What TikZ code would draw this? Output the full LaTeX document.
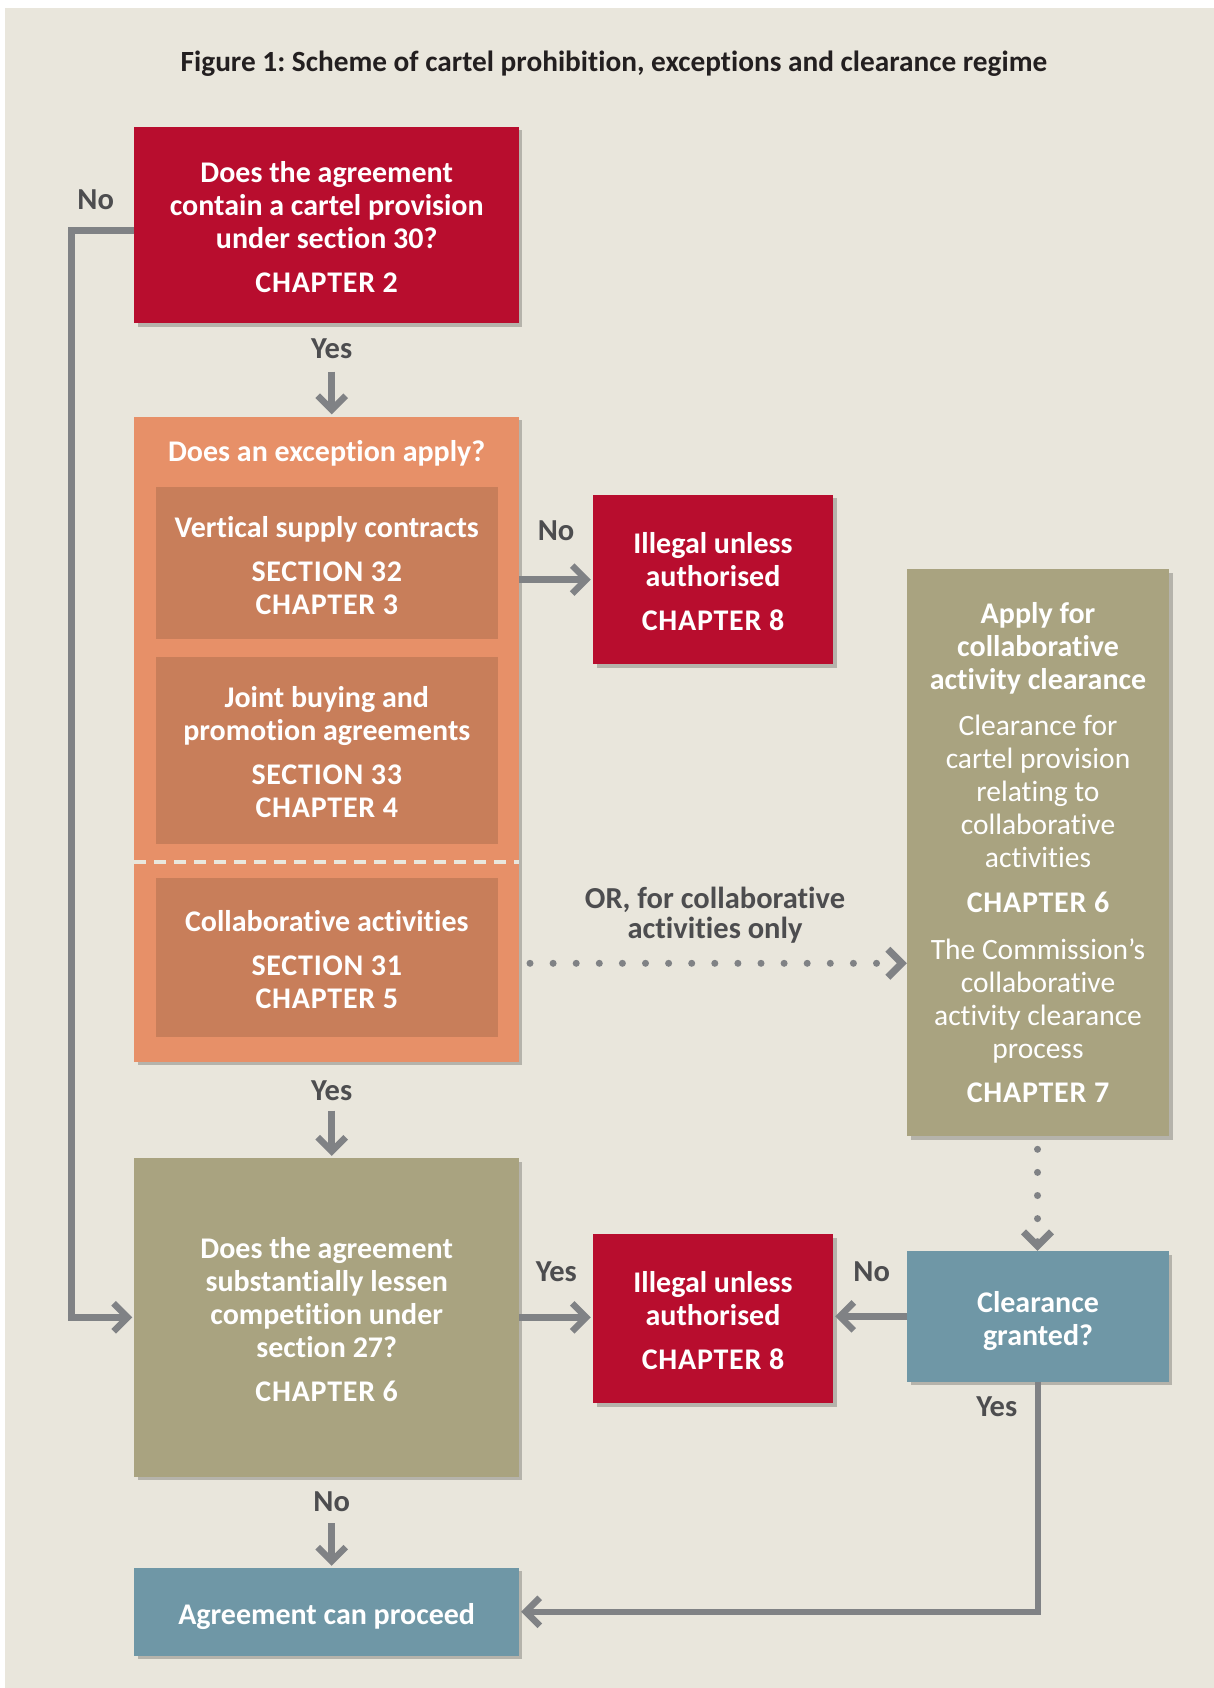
\documentclass[tikz,border=0pt]{standalone}
\usepackage{fontspec}
\setmainfont{Carlito}[Ligatures=NoCommon]
\frenchspacing
\usetikzlibrary{arrows.meta,shadows,calc}
\definecolor{bgc}{HTML}{E9E6DC}
\definecolor{redc}{HTML}{B80D2E}
\definecolor{orc}{HTML}{E79068}
\definecolor{orin}{HTML}{C87E5A}
\definecolor{khc}{HTML}{A9A380}
\definecolor{blc}{HTML}{6F97A6}
\definecolor{arrc}{HTML}{808285}
\definecolor{labc}{HTML}{4D4D4F}
\definecolor{titc}{HTML}{231F20}
\newcommand\mystrut{\rule{0pt}{25pt}}
\newcommand\bl{\bfseries\fontsize{30}{33}\selectfont}
\newcommand\rg{\mdseries\fontsize{29.5}{33}\selectfont}
\newcommand\capsp{\addfontfeature{LetterSpace=2.5}}
\begin{document}
\begin{tikzpicture}[x=1pt,y=-1pt,
  boxfont/.style={font=\bfseries\fontsize{30}{33}\selectfont},
  box/.style={rectangle, inner sep=0pt, align=center, text=white, boxfont,
    drop shadow={shadow xshift=3.5pt, shadow yshift=-3.5pt, fill=black, opacity=0.22}},
  inbox/.style={rectangle, inner sep=0pt, align=center, text=white, boxfont, fill=orin,
    minimum width=341.7pt},
  lbl/.style={font=\bfseries\fontsize{30.5}{30}\selectfont, text=labc, inner sep=0pt, anchor=base, align=center},
  arr/.style={draw=arrc, line width=6.5pt, line join=miter, shorten >=2pt,
    -{Straight Barb[length=14pt,width=28pt,sharp]}},
  dotarr/.style={draw=arrc, line width=7pt, line cap=round, dash pattern=on 0pt off 23.1pt,
    -{Straight Barb[length=14pt,width=28pt,sharp]}},
  dashw/.style={draw=bgc, line width=4pt, dash pattern=on 12pt off 8pt}
]
\useasboundingbox (0,0) rectangle (1214,1688);
\fill[white] (0,0) rectangle (1214,1688);
\fill[bgc] (5,8) rectangle (1214,1688);

\node[font=\bfseries\fontsize{29.3}{33}\selectfont, text=titc, anchor=base, inner sep=0pt] (title) at (614,71.7)
  {Figure 1: Scheme of cartel prohibition, exceptions and clearance regime};

% top red box
\node[box, fill=redc, minimum width=384.5pt, minimum height=196.5pt] (A) at (326.7,225.2)
  {\mystrut Does the agreement\\contain a cartel provision\\under section 30?\\[11pt]\capsp CHAPTER 2};

% orange exception box
\node[box, fill=orc, minimum width=384.5pt, minimum height=645pt] (B) at (326.7,739) {};
\node[boxfont, text=white, anchor=base, inner sep=0pt] (Bt) at (326.7,461) {Does an exception apply?};
\node[inbox, minimum height=152.3pt] (B1) at (326.8,563.1)
  {\mystrut Vertical supply contracts\\[11pt]\capsp SECTION 32\\\capsp CHAPTER 3};
\node[inbox, minimum height=187.2pt] (B2) at (326.8,750.1)
  {\mystrut Joint buying and\\promotion agreements\\[11pt]\capsp SECTION 33\\\capsp CHAPTER 4};
\coordinate (dl) at (0,861.7);
\draw[dashw] (B.west |- dl) -- (B.east |- dl);
\node[inbox, minimum height=159pt] (B3) at (326.8,957.8)
  {\mystrut Collaborative activities\\[11pt]\capsp SECTION 31\\\capsp CHAPTER 5};

% red illegal box 1
\node[box, fill=redc, minimum width=240pt, minimum height=169.3pt] (C) at (713,579.6)
  {\mystrut Illegal unless\\authorised\\[11pt]\capsp CHAPTER 8};

% khaki clearance box
\node[box, fill=khc, minimum width=262pt, minimum height=566.7pt] (D) at (1038,852.7)
  {\bl Apply for\\\bl collaborative\\\bl activity clearance\\[12.5pt]\rg Clearance for\\\rg cartel provision\\\rg relating to\\\rg collaborative\\\rg activities\\[12.5pt]\bl\capsp CHAPTER 6\\[13.5pt]\rg The Commission’s\\\rg collaborative\\\rg activity clearance\\\rg process\\[11.5pt]\bl\capsp CHAPTER 7};

% khaki SLC box
\node[box, fill=khc, minimum width=384.5pt, minimum height=318.6pt] (G) at (326.7,1317.3)
  {\mystrut Does the agreement\\substantially lessen\\competition under\\section 27?\\[11pt]\capsp CHAPTER 6};

% red illegal box 2
\node[box, fill=redc, minimum width=240pt, minimum height=169pt] (H) at (713,1318.5)
  {\mystrut Illegal unless\\authorised\\[11pt]\capsp CHAPTER 8};

% blue clearance granted
\node[box, fill=blc, minimum width=261.4pt, minimum height=130.7pt] (E) at (1038,1316.4)
  {\mystrut Clearance\\\smash{granted?}};

% blue proceed
\node[box, fill=blc, minimum width=384.5pt, minimum height=87.7pt] (F) at (326.7,1611.8)
  {\mystrut\smash{Agreement can proceed}};

% labels
\node[lbl] (noA) at (95.7,210) {No};
\node[lbl] (yesA) at (331.7,358.3) {Yes};
\node[lbl] (noB) at (556,540) {No};
\node[lbl, anchor=center] (orl) at (715,915) {OR, for collaborative\\activities only};
\node[lbl] (yesB) at (331.7,1100.7) {Yes};
\node[lbl] (yesG) at (556.4,1281.7) {Yes};
\node[lbl] (noE) at (871.7,1281.7) {No};
\node[lbl] (yesE) at (996.7,1416.7) {Yes};
\node[lbl] (noG) at (331.7,1511.7) {No};

% connectors
\coordinate (s1) at (331.7,371.7);
\draw[arr] (s1) -- (s1 |- B.north);
\coordinate (s2) at (331.7,1110.7);
\draw[arr] (s2) -- (s2 |- G.north);
\coordinate (s3) at (331.7,1523.3);
\draw[arr] (s3) -- (s3 |- F.north);
\coordinate (lft) at (71.7,230.7);
\draw[arr] ([yshift=-5.5pt]A.west) -- (lft) |- (G.west);
\draw[arr] (B.east |- C.west) -- (C.west);
\draw[arr] (G.east) -- (G.east -| H.west);
\draw[arr] (E.west) -- (E.west -| H.east);
\draw[arr] (E.south) |- (F.east);
\coordinate (d1) at (530,963.3);
\draw[dotarr] (d1) -- (d1 -| D.west);
\coordinate (d2) at (1037.5,1149.3);
\draw[dotarr] (d2) -- (d2 |- E.north);
\end{tikzpicture}
\end{document}
